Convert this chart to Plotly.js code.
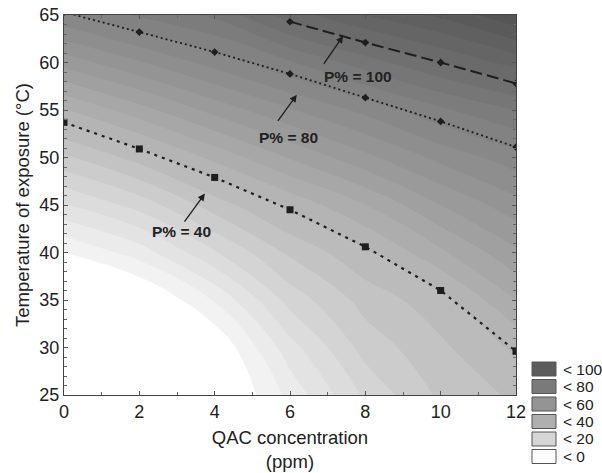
<!DOCTYPE html>
<html><head><meta charset="utf-8">
<script src="https://cdn.plot.ly/plotly-3.0.1.min.js"></script>
<style>body{margin:0;background:#fff}#chart{width:602px;height:473px}</style>
</head><body><div id="chart"></div>
<script>
// Response surface grid (P%) read from the shading
const gridX = [0, 2, 4, 6, 8, 10, 12];
const gridY = [25, 30, 35, 40, 45, 50, 55, 60, 65];
const zGrid = [
  [-40, -33, -8, 6.5, 21, 31, 36],
  [-28, -21, -5, 13, 27, 34, 41],
  [-14, -7, 5.5, 22, 32, 38, 50],
  [0, 7.4, 19.5, 31, 39, 49, 59],
  [14.6, 22, 32.5, 41.4, 50, 60, 68],
  [29, 37, 46.4, 55.4, 63.6, 71.5, 77.8],
  [44.5, 53, 61.7, 69.5, 76.5, 84, 90],
  [62, 69.5, 77, 84.4, 92.6, 100, 107],
  [79, 86, 91, 102.6, 110, 116, 124]
];
// Iso-P% lines
const p40X = [0, 2, 4, 6, 8, 10, 12];
const p40Y = [53.7, 50.9, 47.9, 44.5, 40.6, 36.0, 29.6];
const p80X = [0, 2, 4, 6, 8, 10, 12];
const p80Y = [65.3, 63.2, 61.1, 58.8, 56.3, 53.8, 51.1];
const p100X = [6, 8, 10, 12];
const p100Y = [64.3, 62.1, 60.0, 57.8];
const lineLabels = ['P% = 40', 'P% = 80', 'P% = 100'];
// Legend
const legendLabels = ['< 100', '< 80', '< 60', '< 40', '< 20', '< 0'];
const legendColors = ['#5c5c5c', '#7a7a7a', '#949494', '#afafaf', '#d5d5d5', '#ffffff'];
const xTicks = [0, 2, 4, 6, 8, 10, 12];
const yTicks = [25, 30, 35, 40, 45, 50, 55, 60, 65];

const FONT = 'Liberation Sans, Arial, sans-serif';
const ink = '#1e1e1e';

const traces = [
  {
    type: 'contour', x: gridX, y: gridY, z: zGrid,
    contours: {start: 0, end: 130, size: 5, coloring: 'fill', showlines: false},
    line: {width: 0, smoothing: 1.3},
    colorscale: [
      [0, '#ffffff'], [0.0185, '#f6f6f6'], [0.1667, '#d8d8d8'], [0.315, '#b7b7b7'],
      [0.463, '#9d9d9d'], [0.611, '#858585'], [0.759, '#6d6d6d'], [1, '#4a4a4a']
    ],
    showscale: false, hoverinfo: 'skip'
  },
  {
    type: 'scatter', mode: 'lines+markers', x: p40X, y: p40Y, name: lineLabels[0],
    line: {color: ink, width: 2.2, dash: '3px,5px'},
    marker: {symbol: 'square', size: 7, color: ink}, showlegend: false
  },
  {
    type: 'scatter', mode: 'lines+markers', x: p80X, y: p80Y, name: lineLabels[1],
    line: {color: ink, width: 1.8, dash: '2px,3px'},
    marker: {symbol: 'diamond', size: 6, color: ink}, showlegend: false
  },
  {
    type: 'scatter', mode: 'lines+markers', x: p100X, y: p100Y, name: lineLabels[2],
    line: {color: ink, width: 2, dash: '12px,5px'},
    marker: {symbol: 'diamond', size: 6, color: ink}, showlegend: false
  }
];

const px2x = p => (p - 64) / 452;
const py2y = p => (395 - p) / 380;

const shapes = [];
const annotations = [];
const legendCenters = [369, 386.5, 404, 421.5, 439, 456.5];
legendLabels.forEach((lab, i) => {
  const cy = legendCenters[i];
  shapes.push({
    type: 'rect', xref: 'paper', yref: 'paper',
    x0: px2x(532), x1: px2x(556), y0: py2y(cy + 7), y1: py2y(cy - 7),
    fillcolor: legendColors[i], line: {color: '#555555', width: 1}
  });
  annotations.push({
    xref: 'paper', yref: 'paper', x: px2x(561), y: py2y(cy),
    xanchor: 'left', yanchor: 'middle', showarrow: false,
    text: lab, font: {family: FONT, size: 15.5, color: '#222'}
  });
});

// arrows (head -> tail) and labels, in data coordinates
const arrows = [
  {hx: 3.74, hy: 46.2, tx: 3.17, ty: 43.1, lx: 3.13, ly: 42.2, t: lineLabels[0]},
  {hx: 6.18, hy: 56.6, tx: 5.65, ty: 53.7, lx: 5.95, ly: 52.1, t: lineLabels[1]},
  {hx: 7.41, hy: 62.8, tx: 6.87, ty: 59.7, lx: 7.80, ly: 58.5, t: lineLabels[2]}
];
arrows.forEach(a => {
  annotations.push({
    x: a.hx, y: a.hy, ax: a.tx, ay: a.ty, axref: 'x', ayref: 'y', xref: 'x', yref: 'y',
    text: '', showarrow: true, arrowhead: 2, arrowsize: 1.1, arrowwidth: 1.3, arrowcolor: ink
  });
  annotations.push({
    x: a.lx, y: a.ly, xref: 'x', yref: 'y', showarrow: false,
    text: '<b>' + a.t + '</b>', font: {family: FONT, size: 15.5, color: '#222'}
  });
});

const axisCommon = {
  showgrid: false, zeroline: false, showline: true, linecolor: '#444', linewidth: 1,
  mirror: 'allticks', ticks: 'inside', ticklen: 4, tickcolor: '#555',
  minor: {ticks: 'inside', ticklen: 3, tickcolor: '#666'},
  tickfont: {family: FONT, size: 18, color: '#222'}
};

const layout = {
  width: 602, height: 473,
  margin: {l: 64, r: 86, t: 15, b: 78},
  paper_bgcolor: '#ffffff', plot_bgcolor: '#ffffff',
  font: {family: FONT, color: '#222'},
  xaxis: Object.assign({}, axisCommon, {
    range: [0, 12], tickvals: xTicks, minor: Object.assign({}, axisCommon.minor, {dtick: 1}),
    title: {text: 'QAC concentration<br>(ppm)', font: {family: FONT, size: 18.5, color: '#222'}, standoff: 10}
  }),
  yaxis: Object.assign({}, axisCommon, {
    range: [25, 65], tickvals: yTicks, minor: Object.assign({}, axisCommon.minor, {dtick: 1}),
    title: {text: 'Temperature of exposure (°C)', font: {family: FONT, size: 18.5, color: '#222'}, standoff: 4}
  }),
  shapes: shapes,
  annotations: annotations,
  showlegend: false
};

Plotly.newPlot('chart', traces, layout, {displayModeBar: false, staticPlot: true});
</script>
</body></html>
